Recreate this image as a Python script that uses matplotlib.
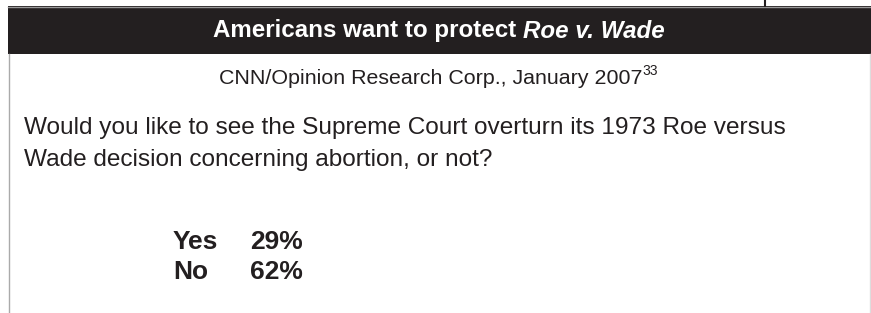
import matplotlib.pyplot as plt
from matplotlib.patches import Rectangle

title = "Americans want to protect "
title_italic = "Roe v. Wade"
source = "CNN/Opinion Research Corp., January 2007"
footnote = "33"
question = ["Would you like to see the Supreme Court overturn its 1973 Roe versus",
            "Wade decision concerning abortion, or not?"]
answers = ["Yes", "No"]
percents = [29, 62]

dark = "#231f20"
plt.rcParams['font.family'] = ['Liberation Sans', 'DejaVu Sans']

fig = plt.figure(figsize=(8.71, 3.13), dpi=100)
ax = fig.add_axes([0, 0, 1, 1])
ax.set_xlim(0, 871)
ax.set_ylim(313, 0)
ax.axis('off')

# header bar and frame
ax.add_patch(Rectangle((8, 6), 863, 48, facecolor=dark, edgecolor='none'))
ax.plot([8, 871], [6.5, 6.5], color='#999999', lw=1)
ax.plot([765, 765], [0, 6], color=dark, lw=1.5)
ax.plot([8.5, 8.5], [54, 313], color='#aaaaaa', lw=1)
ax.plot([869.5, 869.5], [54, 313], color='#dddddd', lw=1)

r = fig.canvas.get_renderer()


def width(t):
    return t.get_window_extent(r).width


# title: bold part + bold italic part, centred together
t1 = ax.text(0, 31, title, color='white', fontsize=17.4, fontweight='bold',
             va='center', ha='left')
t2 = ax.text(0, 31, title_italic, color='white', fontsize=17.4, fontweight='bold',
             style='italic', va='center', ha='left')
w1, w2 = width(t1), width(t2)
x0 = 439 - (w1 + w2) / 2
t1.set_x(x0)
t2.set_x(x0 + w1)

# source line with footnote marker
s1 = ax.text(0, 84, source, color=dark, fontsize=15.4, ha='left', va='baseline')
s2 = ax.text(0, 75, footnote, color=dark, fontsize=10, ha='left', va='baseline')
ws1, ws2 = width(s1), width(s2)
x0 = 438 - (ws1 + ws2) / 2
s1.set_x(x0)
s2.set_x(x0 + ws1 + 0.5)

for i, line in enumerate(question):
    ax.text(24, 128 + 32 * i, line, color=dark, fontsize=17.6, ha='left', va='center')

for i, (a, p) in enumerate(zip(answers, percents)):
    y = 242 + 30 * i
    ax.text(173, y, a, color=dark, fontsize=19, fontweight='bold', ha='left', va='center')
    ax.text(250, y, f"{p}%", color=dark, fontsize=19, fontweight='bold', ha='left', va='center')

fig.savefig("out.png", dpi=100)
